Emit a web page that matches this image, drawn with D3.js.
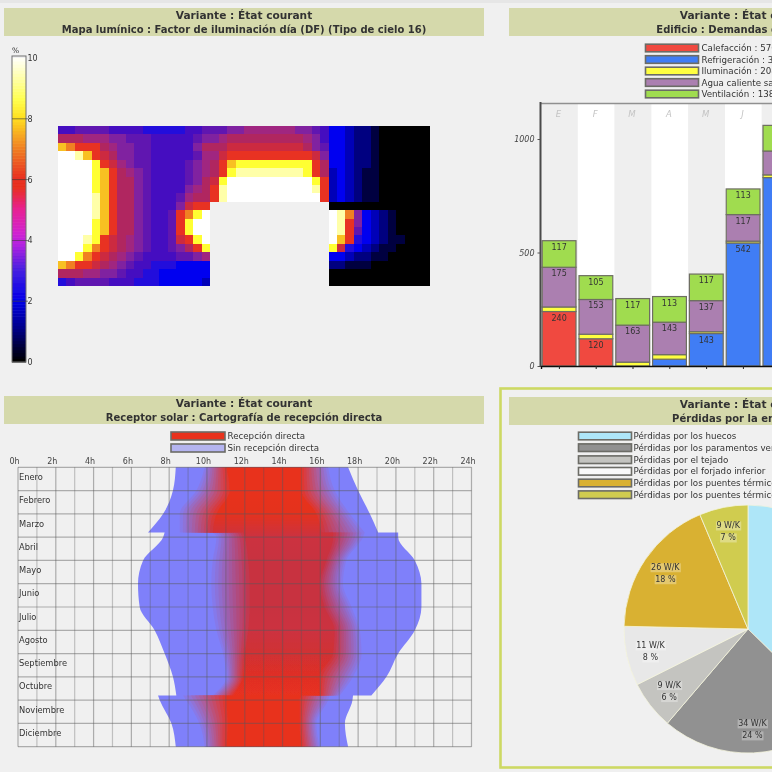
<!DOCTYPE html>
<html><head><meta charset="utf-8">
<script src="https://cdn.jsdelivr.net/npm/d3@7"></script>
<style>
html,body{margin:0;padding:0;background:#f0f0f0;overflow:hidden;width:772px;height:772px}
svg{display:block}
text{font-family:"DejaVu Sans",sans-serif;fill:#333}
</style></head><body>
<svg id="c" width="772" height="772" viewBox="0 0 772 772"></svg>
<script>
// ---------- data ----------
const variantTitle = "Variante : État courant";
const titleHeat = "Mapa lumínico : Factor de iluminación día (DF) (Tipo de cielo 16)";
const titleBars = "Edificio : Demandas de energía útil";
const titleSolar = "Receptor solar : Cartografía de recepción directa";
const titlePie = "Pérdidas por la envolvente";

// daylight map: one character per cell, "." = no floor
const heatCodes = "0123456789abcdefgh".split("");
const heatValues = [0,0.5,1,1.5,2,2.4,2.8,3.2,3.6,4.2,4.8,5.4,6,7,7.5,8,9,10];
const heatColors = ["#000000","#000040","#000080","#0000b8","#0000f0","#2408dc","#4408c0","#6014b0","#8020a0","#a02880","#b02860","#cc2c40","#e83020","#f08020","#f8c020","#ffff30","#ffffa8","#ffffff"];
const heatRows = [
"667777666655555667 77889999998876 443221000000",
"aaa999887776666678 89aaaaaaaaa986 443221000000",
"edccca98877666668a aabbbbbbbbba87 443221000000",
"hhgecba88776666679 9bccccccccccb8 443221000000",
"hhhhfcb98776666789 acefffffffffca 443221000000",
"hhhhfeca9876666789 acfggggggggfca 343211000000",
"hhhhfecaa87666678a bfhhhhhhhhhhfc 343211000000",
"hhhhfecaa87666689a cghhhhhhhhhhgc 343211000000",
"hhhhgecaa8766679aa cghhhhhhhhhhhc 343211000000",
"hhhhgecaa876668bcc .............. 000000000000",
"hhhhgecaa87667cdfh .............. hgd843210000",
"hhhhfecaa87667cfhh .............. hgc843210000",
"hhhhfecaa87667cfhh .............. hgc743210000",
"hhhgfcba987667bcfh .............. hec543211000",
"hhhfdcba9876678acf .............. fb5432110000",
"hhfdcba98766667789 .............. 443221100000",
"edccba987665554444 .............. 221110000000",
"aaa998876655444444 .............. 000000000000",
"567777666555444443 .............. 000000000000"
];
const scaleTicks = [0,2,4,6,8,10];
const scaleStops = [0,1,2,3,3.8,4.2,5,5.7,6,7,8,8.6,10];
const scaleColors = ["#000000","#000080","#0000e8","#4820e0","#b020e0","#d020d0","#e82090","#e83020","#e83020","#f08020","#ffe020","#ffff50","#ffffff"];

// bars
const monthLetters = ["E","F","M","A","M","J","J","A","S","O","N","D"];
const barKeys = ["Calefacción","Refrigeración","Iluminación","Agua caliente","Ventilación"];
const barColors = ["#f04a40","#3f7df5","#ffff40","#ab7fb0","#a0dc50"];
const barLegend = ["Calefacción : 576 kWh","Refrigeración : 3762 kWh","Iluminación : 208 kWh","Agua caliente sanitaria : 1700 kWh","Ventilación : 1380 kWh"];
const calefaccion = [240,120,0,0,0,0,0];
const refrigeracion = [0,0,0,30,143,542,830];
const iluminacion = [20,20,17,20,8,8,12];
const aguaCaliente = [175,153,163,143,137,117,105];
const ventilacion = [117,105,117,113,117,113,113];
const barTicks = [0,500,1000];

// solar chart: month positions and band limits in hours
const solarMonths = ["Enero","Febrero","Marzo","Abril","Mayo","Junio","Julio","Agosto","Septiembre","Octubre","Noviembre","Diciembre"];
const solarPos     = [0,1,2,2.8,2.8,3,4,5,6,7,8,9,9.8,9.8,10,11,12];
const solarSegments = [[0,1,2,3],[4,5,6,7,8,9,10,11,12],[13,14,15,16]];
const sunrise      = [8.35,8.2,7.68,6.88,7.76,7.68,6.62,6.35,6.44,7.23,7.76,8.2,8.38,7.41,7.5,8.12,8.35];
const sunset       = [17.47,18.0,18.62,19.06,20.12,20.12,21.0,21.35,21.35,21.0,20.12,19.5,18.7,17.73,17.7,17.3,17.47];
const fadeInStart  = [9.88,9.44,8.56,8.56,10.3,10.5,10.3,10.23,10.3,10.5,10.85,11.03,10.3,8.73,8.9,9.6,9.88];
const fadeInEnd    = [11.03,11.2,10.5,10.3,11.9,12,12.18,12.26,12.26,12.18,12,11.9,11.38,11.03,11.03,11.1,11.03];
const fadeOutStart = [15,15,15.8,16.06,16.68,16.68,16.32,15.97,16.23,16.76,16.68,15.97,15.97,15,14.91,14.91,15];
const fadeOutEnd   = [16.41,16.76,17.56,18.35,18.35,18.26,17.38,17.2,17.65,18.09,18.18,17.73,17.03,16.5,16.41,15.79,15.97];
const directColor  = ["#e8301f","#e8301f","#e4301f","#d03038","#d03038","#cc3040","#c83040","#c83040","#c83040","#cc3040","#d03034","#e02f24","#e8301f","#e8301f","#e8301f","#e8301f","#e8301f"];
const hourTicks = [0,2,4,6,8,10,12,14,16,18,20,22,24];
const solarLegend = ["Recepción directa","Sin recepción directa"];

// pie
const pieNames = ["Pérdidas por los huecos","Pérdidas por los paramentos verticales","Pérdidas por el tejado","Pérdidas por el forjado inferior","Pérdidas por los puentes térmicos de los forjados","Pérdidas por los puentes térmicos de los huecos"];
const piePct = [37,24,6,8,18,7];
const pieWK = [53,34,9,11,26,9];
const pieColors = ["#aee6f8","#919191","#c4c4c0","#e8e8e8","#d9b130","#d0cc50"];
const pieSwatch = ["#aee6f8","#919191","#c4c4c0","#fafafa","#d9b130","#d0cc50"];

// ---------- drawing ----------
const root = d3.select("#c");
const defs = root.append("defs");
defs.append("filter").attr("id","soft").attr("filterUnits","userSpaceOnUse")
  .attr("x",0).attr("y",0).attr("width",772).attr("height",772)
  .append("feGaussianBlur").attr("stdDeviation",0.7);
const svg = root.append("g").attr("filter","url(#soft)");
svg.append("rect").attr("width",772).attr("height",772).attr("fill","#f0f0f0");
svg.append("rect").attr("width",772).attr("height",3).attr("fill","#e6e6e6");

function titleBar(x,y,w,l1,l2,dx){
  svg.append("rect").attr("x",x).attr("y",y).attr("width",w).attr("height",28).attr("fill","#d5d9ab");
  [l1,l2].forEach((t,i)=>svg.append("text").attr("x",x+w/2+(i?dx||0:0)).attr("y",y+10.5+i*14)
    .attr("text-anchor","middle").attr("font-size",i?10:10.6).attr("font-weight","bold").attr("fill","#26261c").text(t));
}
titleBar(4,8,480,variantTitle,titleHeat);
titleBar(509,8,478,variantTitle,titleBars,7);
titleBar(4,396,480,variantTitle,titleSolar);
// selected panel frame
svg.append("rect").attr("x",500.5).attr("y",388.5).attr("width",500).attr("height",379).attr("fill","none").attr("stroke","#cdd964").attr("stroke-width",2.6);
titleBar(509,397,478,variantTitle,titlePie);

// --- heat map ---
const gHeat = svg.append("g");
const heatCells = heatRows.map(r=>r.replace(/ /g,"").split(""));
const hx = d3.scaleBand().domain(d3.range(44)).range([58,430]);
const hy = d3.scaleBand().domain(d3.range(19)).range([126,286]);
const hVal = d3.scaleOrdinal().domain(heatCodes).range(heatValues);
const hCol = d3.scaleLinear().domain(heatValues).range(heatColors);
heatCells.forEach((row,r)=>{
  gHeat.selectAll(null).data(row.map((c,i)=>({c,i})).filter(d=>d.c!=="."))
    .join("rect").attr("x",d=>hx(d.i)).attr("y",hy(r)).attr("width",hx.bandwidth()).attr("height",hy.bandwidth())
    .attr("shape-rendering","crispEdges").attr("fill",d=>hCol(hVal(d.c)));
});
// colour scale
const csY = d3.scaleLinear().domain([0,10]).range([362,58]);
const csCol = d3.scaleLinear().domain(scaleStops).range(scaleColors);
const gCs = svg.append("g");
gCs.selectAll("rect").data(d3.range(0,10,0.1)).join("rect")
  .attr("x",12).attr("width",14).attr("y",d=>csY(d+0.1)).attr("height",csY(0)-csY(0.1)+.5).attr("fill",d=>csCol(d));
gCs.append("rect").attr("x",12).attr("y",56).attr("width",14).attr("height",306).attr("fill","none").attr("stroke","#707070").attr("stroke-width",1);
gCs.selectAll("line").data(scaleTicks.slice(1,5)).join("line").attr("x1",12).attr("x2",28)
  .attr("y1",csY).attr("y2",csY).attr("stroke","#333").attr("stroke-width",.8).attr("opacity",.75);
gCs.selectAll("text.t").data(scaleTicks).join("text").attr("class","t").attr("x",27.5).attr("y",d=>csY(d)+3)
  .attr("font-size",8).attr("fill","#444").text(d=>d);
gCs.append("text").attr("x",12).attr("y",53).attr("font-size",7.5).attr("fill","#444").text("%");

// --- stacked bars ---
const bx = d3.scaleBand().domain(d3.range(12)).range([541,541+36.8*12]).paddingInner(0).paddingOuter(0);
const by = d3.scaleLinear().domain([0,1000]).range([366,139]);
const gBars = svg.append("g");
gBars.selectAll("rect.s").data(d3.range(12)).join("rect").attr("class","s")
  .attr("x",d=>bx(d)).attr("y",104).attr("width",bx.bandwidth()).attr("height",262)
  .attr("fill",d=>d%2?"#ffffff":"#efefef");
gBars.selectAll("text.m").data(d3.range(12)).join("text").attr("class","m")
  .attr("x",d=>bx(d)+bx.bandwidth()/2-1).attr("y",117).attr("text-anchor","middle")
  .attr("font-size",8.5).attr("font-style","italic").style("fill","#c4c4c4").text(d=>monthLetters[d]);
const barTable = calefaccion.map((_,i)=>({i,"Calefacción":calefaccion[i],"Refrigeración":refrigeracion[i],"Iluminación":iluminacion[i],"Agua caliente":aguaCaliente[i],"Ventilación":ventilacion[i]}));
const stack = d3.stack().keys(barKeys)(barTable);
stack.forEach((layer,k)=>{
  const g = gBars.append("g");
  g.selectAll("rect").data(layer.filter(d=>d[1]>d[0])).join("rect")
    .attr("x",d=>bx(d.data.i)+1.2).attr("width",bx.bandwidth()-3)
    .attr("y",d=>by(d[1])).attr("height",d=>by(d[0])-by(d[1]))
    .attr("fill",barColors[k]).attr("stroke","#6e6e62").attr("stroke-width",1.2);
  g.selectAll("text").data(layer.filter(d=>d[1]-d[0]>100)).join("text")
    .attr("x",d=>bx(d.data.i)+bx.bandwidth()/2-.3).attr("y",d=>by(d[1])+9).attr("text-anchor","middle")
    .attr("font-size",8).attr("fill","#1c1c1c").text(d=>d[1]-d[0]);
});
gBars.append("line").attr("x1",541).attr("x2",772).attr("y1",103.5).attr("y2",103.5).attr("stroke","#909090").attr("stroke-width",1.4);
const axL = gBars.append("g").attr("transform","translate(540.5,0)")
  .call(d3.axisLeft(by).tickValues(barTicks).tickSize(3).tickFormat(d3.format("d")));
axL.select(".domain").remove();
axL.selectAll("text").attr("font-size",8).attr("font-style","italic").style("fill","#444").attr("font-family",null);
axL.selectAll("line").attr("stroke","#555");
gBars.append("line").attr("x1",540.5).attr("x2",540.5).attr("y1",102).attr("y2",367).attr("stroke","#4a4a4a").attr("stroke-width",2);
const axB = gBars.append("g").attr("transform","translate(0,366)")
  .call(d3.axisBottom(bx).tickSize(3).tickFormat(""));
axB.select(".domain").attr("stroke","#111").attr("stroke-width",1.4);
axB.selectAll("line").attr("stroke","#222");
function legend(rows,x,w,ys,h,labelX){
  const g = svg.append("g");
  g.selectAll("rect.o").data(rows).join("rect").attr("class","o").attr("x",x).attr("y",(d,i)=>ys[i]-h/2)
    .attr("width",w).attr("height",h).attr("fill",d=>d.c).attr("stroke","#6c6c66").attr("stroke-width",1.6);
  g.selectAll("text").data(rows).join("text").attr("x",labelX).attr("y",(d,i)=>ys[i]+3)
    .attr("font-size",8.7).attr("fill","#4a4a4a").text(d=>d.t);
}
legend(barLegend.map((t,i)=>({t,c:barColors[i]})),645.5,53,[48,59.5,71,82.5,94],7.6,701.5);

// --- solar map ---
const sx = d3.scaleLinear().domain([0,24]).range([18,471.5]);
const sy = d3.scaleLinear().domain([0,12]).range([467.3,746.7]);
const sBand = d3.scaleBand().domain(solarMonths).range([467.3,746.7]);
const gSolar = svg.append("g");
const blue = "#7f80fa", nLevels = 12;
function bandArea(x0,x1){
  const a = d3.area().curve(d3.curveMonotoneY).y(i=>sy(solarPos[i])).x0(i=>sx(x0(i))).x1(i=>sx(x1(i)));
  return solarSegments.map(seg=>a(seg)).join("");
}
gSolar.append("path").attr("d",bandArea(i=>sunrise[i],i=>sunset[i])).attr("fill",blue);
d3.range(1,nLevels+1).forEach(k=>{
  const t = k/nLevels, id="lv"+k;
  const gr = defs.append("linearGradient").attr("id",id).attr("gradientUnits","userSpaceOnUse")
    .attr("x1",0).attr("x2",0).attr("y1",sy(0)).attr("y2",sy(12));
  solarPos.forEach((m,i)=>gr.append("stop").attr("offset",m/12).attr("stop-color",d3.interpolateRgb(blue,directColor[i])(t)));
  const a = (p,q)=>i=>p[i]+(q[i]-p[i])*(k-1)/(nLevels-1);
  gSolar.append("path").attr("d",bandArea(a(fadeInStart,fadeInEnd),a(fadeOutEnd,fadeOutStart))).attr("fill",`url(#${id})`);
});
// grid
gSolar.selectAll("line.v").data(d3.range(0,25)).join("line").attr("class","v")
  .attr("x1",sx).attr("x2",sx).attr("y1",sy(0)).attr("y2",sy(12)).attr("stroke","#585858").attr("stroke-opacity",d=>d%2?.32:.45).attr("stroke-width",1.2);
gSolar.selectAll("line.h").data(d3.range(0,13)).join("line").attr("class","h")
  .attr("y1",sy).attr("y2",sy).attr("x1",sx(0)).attr("x2",sx(24)).attr("stroke","#585858").attr("stroke-opacity",.45).attr("stroke-width",1.2);
const axT = gSolar.append("g").attr("transform",`translate(-4,${sy(0)})`)
  .call(d3.axisTop(sx).tickValues(hourTicks).tickSize(0).tickPadding(3).tickFormat(d=>d+"h"));
axT.select(".domain").remove();
axT.selectAll("text").attr("font-size",8).attr("font-family",null).style("fill","#444");
gSolar.selectAll("text.mo").data(solarMonths).join("text").attr("class","mo")
  .attr("x",19).attr("y",d=>sBand(d)+sBand.bandwidth()/2+1).attr("font-size",8.3).attr("fill","#333").text(d=>d);
legend([{t:solarLegend[0],c:"#e8301f"},{t:solarLegend[1],c:"#b4b4f0"}],171,54,[436,448],8,227.5);

// --- pie ---
const cx=748, cy=629, R=124;
const arcs = d3.pie().sort(null)(pieWK);
const arc = d3.arc().innerRadius(0).outerRadius(R);
const lab = d3.arc().innerRadius(100).outerRadius(100);
const gPie = svg.append("g").attr("transform",`translate(${cx},${cy})`);
gPie.selectAll("path").data(arcs).join("path").attr("d",arc).attr("fill",(d,i)=>pieColors[i]).attr("stroke","#f4f4dc").attr("stroke-width",.8);
arcs.forEach((a,i)=>{
  const [lx,ly]=lab.centroid(a);
  const g=gPie.append("g").attr("transform",`translate(${lx},${ly})`);
  [[pieWK[i]+" W/K",-2.5],[piePct[i]+" %",9.5]].forEach(([s,y])=>{
    const r=g.append("rect").attr("fill","#ffffff").attr("opacity",.3);
    const t=g.append("text").attr("text-anchor","middle").attr("y",y).attr("font-size",8).attr("fill","#333").text(s);
    const b=t.node().getBBox();
    r.attr("x",b.x-.5).attr("y",b.y).attr("width",b.width+1).attr("height",b.height);
  });
});
legend(pieNames.map((t,i)=>({t,c:pieSwatch[i]})),578.5,53,[436,447.7,459.7,471.3,483,494.7],7.6,633.5);
</script>
</body></html>
